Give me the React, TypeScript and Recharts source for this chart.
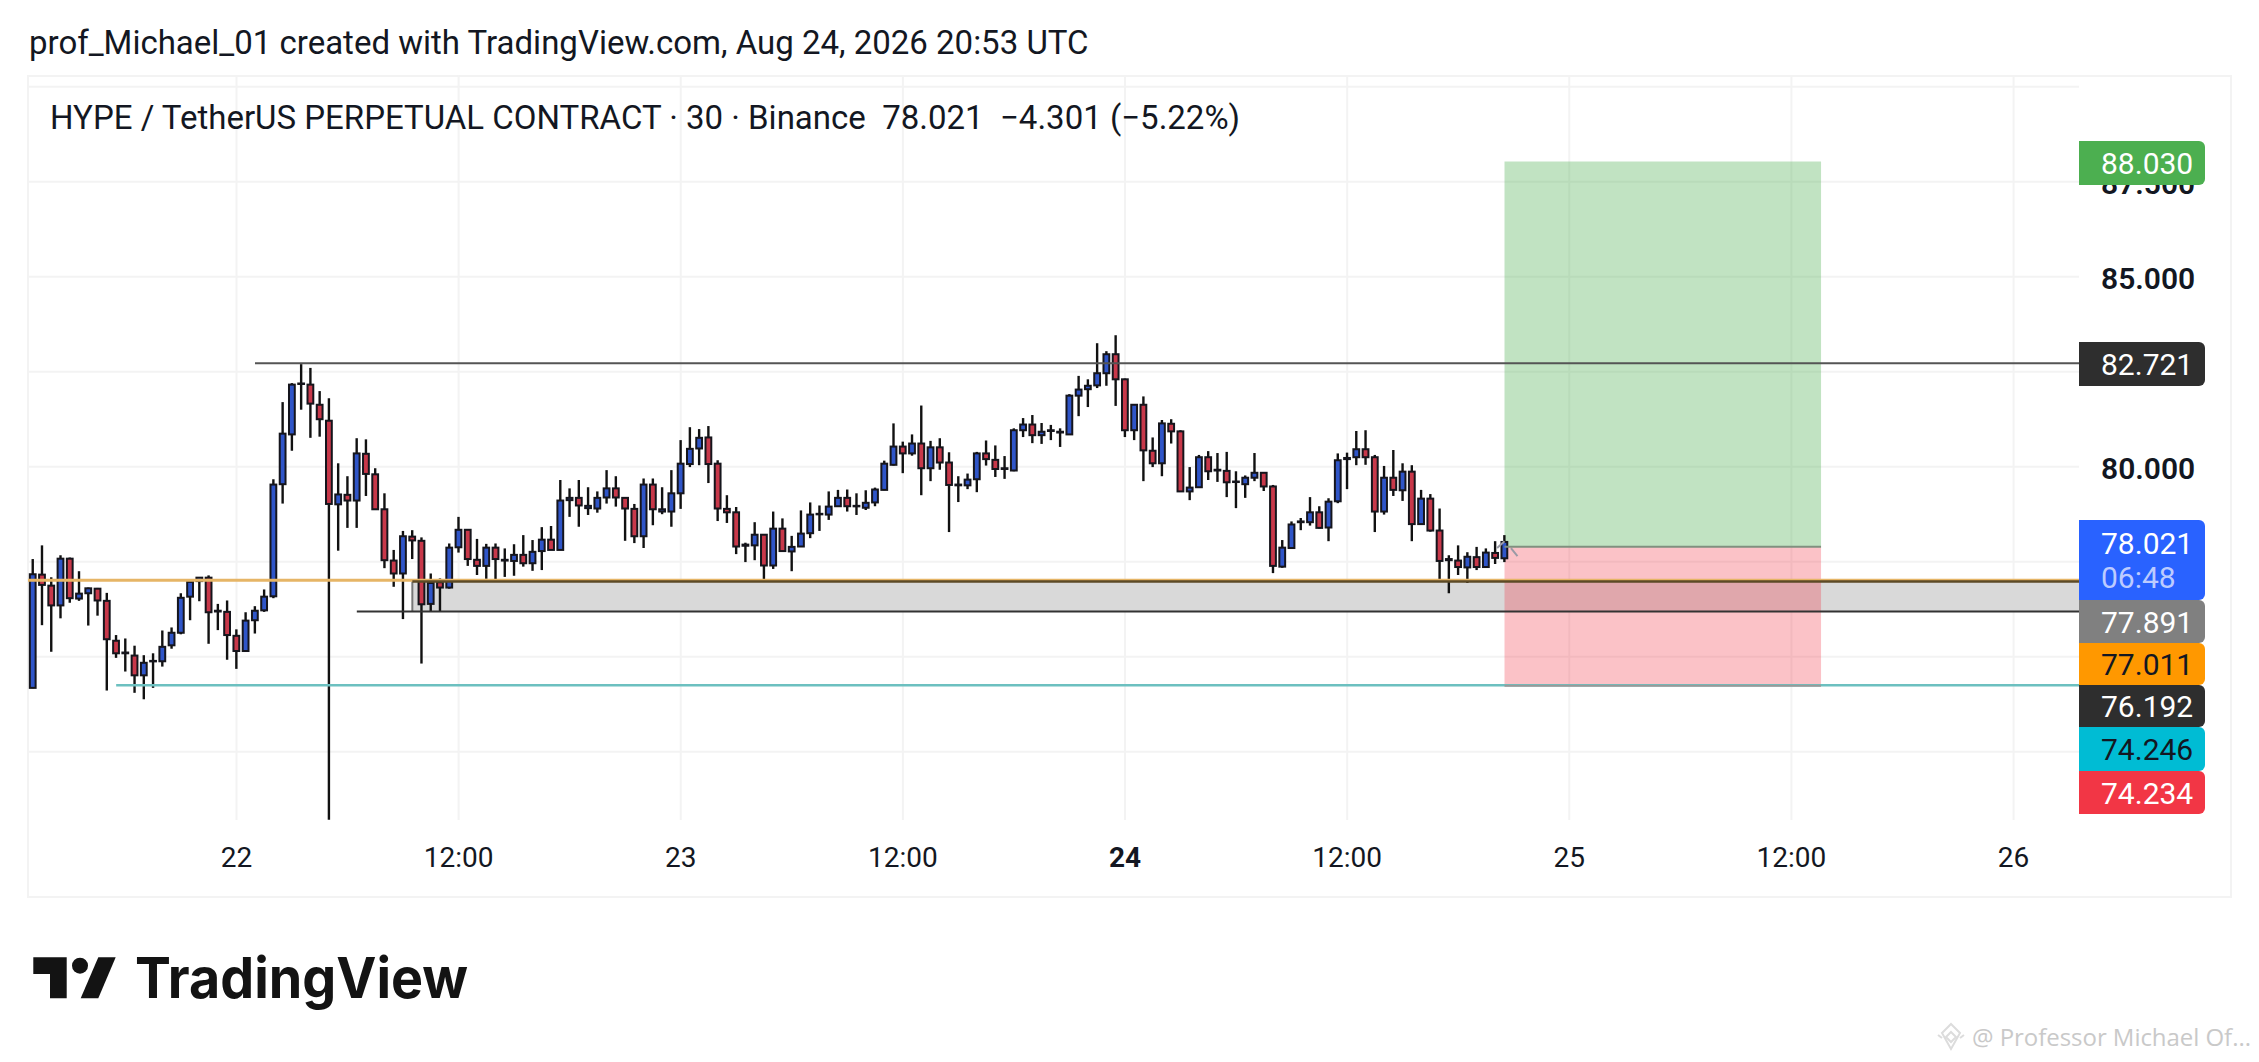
import React from 'react';
import {
  ComposedChart,
  Bar,
  XAxis,
  YAxis,
  CartesianGrid,
  ReferenceLine,
  ReferenceArea,
} from 'recharts';

const opens = [
  74.18, 77.16, 76.87, 76.35, 77.58, 76.53, 76.67, 76.79, 76.47, 75.42, 75.11, 75.03, 74.51, 74.88, 74.88, 75.30,
  75.63, 76.58, 76.99, 77.08, 76.19, 76.18, 75.55, 75.15, 75.96, 76.22, 76.59, 79.54, 80.85, 82.18, 82.16, 81.63,
  81.21, 79.01, 79.26, 79.11, 80.34, 79.80, 78.88, 77.53, 77.19, 78.16, 78.05, 76.39, 76.96, 76.82, 77.88, 78.34,
  77.55, 77.39, 77.87, 77.55, 77.52, 77.68, 77.46, 77.78, 78.08, 77.81, 79.12, 79.18, 78.91, 78.90, 79.19, 79.43,
  79.18, 78.89, 78.17, 79.53, 78.82, 78.82, 79.30, 80.07, 80.48, 80.77, 80.08, 78.89, 78.80, 77.92, 77.93, 78.21,
  77.40, 78.37, 77.77, 77.90, 78.25, 78.75, 78.74, 78.96, 79.18, 78.96, 78.92, 79.06, 79.39, 80.05, 80.53, 80.35,
  80.61, 79.96, 80.51, 80.11, 79.51, 79.51, 79.67, 80.35, 80.18, 79.94, 79.90, 80.96, 81.11, 80.83, 80.94, 80.90,
  80.85, 81.87, 82.04, 82.14, 82.46, 82.96, 82.30, 80.96, 81.63, 80.42, 80.09, 81.13, 80.93, 79.35, 79.46, 80.25,
  79.90, 79.89, 79.60, 79.54, 79.71, 79.84, 79.48, 77.37, 77.86, 78.54, 78.54, 78.80, 78.40, 79.09, 80.20, 80.25,
  80.46, 80.25, 78.82, 79.71, 79.38, 79.87, 78.49, 79.16, 78.32, 77.54, 77.53, 77.35, 77.62, 77.36, 77.73, 77.59,
];
const highs = [
  77.57, 77.93, 77.09, 77.67, 77.61, 77.25, 76.82, 76.81, 76.68, 75.57, 75.48, 75.29, 75.04, 75.09, 75.69, 75.77,
  76.67, 77.01, 77.09, 77.14, 76.39, 76.48, 75.72, 76.17, 76.33, 76.77, 79.67, 81.70, 82.20, 82.70, 82.60, 81.99,
  81.80, 80.09, 79.75, 80.75, 80.72, 79.96, 79.30, 77.81, 78.31, 78.33, 78.14, 77.19, 77.06, 77.98, 78.68, 78.34,
  78.10, 77.97, 77.98, 77.85, 77.96, 78.20, 78.07, 78.41, 78.44, 79.65, 79.43, 79.65, 79.46, 79.35, 79.91, 79.75,
  79.18, 79.02, 79.69, 79.69, 79.46, 79.91, 80.70, 81.04, 80.99, 81.07, 80.17, 79.25, 78.94, 78.00, 78.54, 78.21,
  78.82, 78.64, 78.18, 78.85, 79.06, 78.98, 79.35, 79.39, 79.40, 79.30, 79.38, 79.45, 80.16, 81.14, 80.66, 80.85,
  81.61, 80.68, 80.75, 80.38, 79.75, 79.82, 80.39, 80.69, 80.56, 80.28, 81.01, 81.28, 81.36, 81.15, 81.10, 81.01,
  81.91, 82.39, 82.30, 83.25, 83.04, 83.46, 82.32, 81.65, 81.85, 80.77, 81.23, 81.25, 80.96, 79.99, 80.31, 80.41,
  80.36, 80.39, 79.88, 79.77, 80.36, 79.85, 79.52, 78.07, 78.56, 78.65, 79.20, 78.96, 79.17, 80.35, 80.37, 80.94,
  80.96, 80.31, 80.02, 80.44, 80.09, 80.04, 79.39, 79.28, 78.90, 77.67, 77.93, 77.75, 77.89, 77.85, 78.04, 78.20,
];
const lows = [
  74.17, 75.83, 75.13, 76.01, 76.42, 76.47, 75.82, 76.08, 74.11, 74.97, 74.61, 74.05, 73.88, 74.18, 74.74, 75.21,
  75.59, 75.96, 76.46, 75.34, 75.70, 74.92, 74.68, 75.15, 75.61, 76.18, 76.54, 79.03, 80.42, 81.50, 80.76, 80.79,
  70.71, 77.79, 78.39, 78.39, 79.23, 78.88, 77.33, 76.84, 75.99, 77.57, 74.82, 76.20, 76.20, 76.79, 77.74, 77.39,
  77.15, 77.05, 77.03, 77.10, 77.13, 77.37, 77.26, 77.28, 77.81, 77.81, 78.68, 78.42, 78.73, 78.79, 79.03, 78.95,
  78.05, 77.99, 77.86, 78.46, 78.75, 78.42, 78.89, 79.99, 80.04, 79.57, 78.57, 78.52, 77.70, 77.49, 77.54, 76.97,
  77.31, 77.78, 77.25, 77.90, 78.12, 78.31, 78.60, 78.95, 78.82, 78.73, 78.86, 78.96, 79.38, 80.03, 79.83, 80.29,
  79.25, 79.62, 79.92, 78.28, 79.07, 79.41, 79.33, 80.03, 79.73, 79.68, 79.88, 80.78, 80.62, 80.60, 80.70, 80.52,
  80.84, 81.33, 81.57, 82.07, 82.13, 81.60, 80.78, 80.70, 79.62, 79.99, 79.75, 80.61, 79.35, 79.12, 79.45, 79.65,
  79.60, 79.20, 78.91, 79.18, 79.62, 79.36, 77.20, 77.34, 77.84, 78.33, 78.45, 78.37, 78.04, 79.04, 79.41, 80.04,
  80.05, 78.28, 78.74, 79.23, 79.10, 78.04, 78.48, 78.29, 77.04, 76.67, 77.15, 76.94, 77.28, 77.35, 77.44, 77.49,
];
const closes = [
  77.17, 76.89, 76.35, 77.58, 76.54, 76.66, 76.80, 76.48, 75.46, 75.09, 75.09, 74.51, 74.84, 74.89, 75.26, 75.63,
  76.55, 76.97, 77.08, 76.17, 76.21, 75.57, 75.15, 75.95, 76.21, 76.58, 79.53, 80.87, 82.16, 82.19, 81.66, 81.25,
  79.02, 79.27, 79.11, 80.35, 79.81, 78.88, 77.54, 77.19, 78.17, 78.06, 76.38, 76.94, 76.82, 77.87, 78.34, 77.57,
  77.39, 77.87, 77.57, 77.53, 77.68, 77.46, 77.76, 78.08, 77.81, 79.11, 79.18, 78.98, 78.97, 79.18, 79.43, 79.19,
  78.90, 78.17, 79.53, 78.88, 78.88, 79.30, 80.08, 80.47, 80.76, 80.07, 78.90, 78.80, 77.90, 77.95, 78.21, 77.40,
  78.37, 77.78, 77.89, 78.24, 78.74, 78.76, 78.95, 79.18, 78.96, 78.97, 79.05, 79.40, 80.08, 80.53, 80.35, 80.61,
  79.96, 80.51, 80.11, 79.52, 79.53, 79.66, 80.35, 80.20, 79.94, 79.96, 80.96, 81.11, 80.83, 80.92, 80.96, 80.92,
  81.87, 82.03, 82.13, 82.46, 82.96, 82.30, 80.96, 81.63, 80.43, 80.09, 81.14, 80.93, 79.35, 79.45, 80.25, 79.88,
  79.92, 79.59, 79.61, 79.71, 79.84, 79.48, 77.39, 77.87, 78.48, 78.56, 78.80, 78.39, 79.08, 80.17, 80.23, 80.46,
  80.25, 78.82, 79.71, 79.39, 79.87, 78.49, 79.16, 78.32, 77.52, 77.57, 77.36, 77.63, 77.36, 77.74, 77.60, 78.02,
];

const priceTicks = [72.5, 75, 77.5, 80, 82.5, 85, 87.5, 90];
const shownPriceTicks = [80, 85, 87.5];
const timeTicks = [22, 46, 70, 94, 118, 142, 166, 190, 214];
const timeLabels = ['22', '12:00', '23', '12:00', '24', '12:00', '25', '12:00', '26'];
const boldTimeLabels = ['24'];

// drawing tool levels
const resistance = 82.721;
const zoneTop = 76.98;
const zoneBottom = 76.192;
const orangeLevel = 77.011;
const tealLevel = 74.246;
const target = 88.03;
const entry = 77.891;
const stop = 74.234;

const candles = opens.map((open, i) => ({
  i,
  open,
  close: closes[i],
  range: [lows[i], highs[i]],
}));

const xMin = -0.525;
const xMax = 221.07;
const FONT = 'Roboto, sans-serif';

const Candle = (props: any) => {
  const { x, y, width, height, payload } = props;
  const [low, high] = payload.range;
  const perUnit = height / (high - low);
  const yOf = (price: number) => y + (high - price) * perUnit;
  const bodyTop = yOf(Math.max(payload.open, payload.close));
  const bodyBottom = yOf(Math.min(payload.open, payload.close));
  const up = payload.close >= payload.open;
  const cx = x + width / 2;
  return (
    <g>
      <line x1={cx} x2={cx} y1={y} y2={y + height} stroke="#111" strokeWidth={2.4} />
      <rect
        x={x + 1.6}
        y={bodyTop}
        width={width - 3.2}
        height={Math.max(bodyBottom - bodyTop, 0.5)}
        fill={up ? '#2f55c8' : '#c8384a'}
        stroke="#15151c"
        strokeWidth={2}
      />
    </g>
  );
};

const PriceTick = (props: any) => {
  const { x, y, payload } = props;
  if (!shownPriceTicks.includes(payload.value)) return null;
  return (
    <text x={x + 14} y={y + 12} fontFamily={FONT} fontSize={30} fontWeight={600} fill="#131722">
      {payload.value.toFixed(3)}
    </text>
  );
};

const TimeTick = (props: any) => {
  const { x, y, payload } = props;
  const label = timeLabels[timeTicks.indexOf(payload.value)];
  return (
    <text
      x={x}
      y={y + 39}
      textAnchor="middle"
      fontFamily={FONT}
      fontSize={28}
      fontWeight={boldTimeLabels.includes(label) ? 700 : 400}
      fill="#131722"
    >
      {label}
    </text>
  );
};

const PriceBox = ({ top, height, bg, color, text, sub }: any) => (
  <div
    style={{
      position: 'absolute',
      left: 2079,
      top,
      width: 126,
      height,
      background: bg,
      color,
      borderRadius: '0 6px 6px 0',
      fontFamily: FONT,
      fontSize: 30,
      lineHeight: '34px',
      paddingLeft: 22,
      boxSizing: 'border-box',
      paddingTop: sub ? 7 : (height - 34) / 2 + 1,
    }}
  >
    {text}
    {sub && <div style={{ color: '#bccbff' }}>{sub}</div>}
  </div>
);

const App = () => (
  <div style={{ position: 'absolute', left: 0, top: 0, width: 2259, height: 1062, background: '#fff', overflow: 'hidden' }}>
    <div style={{ position: 'absolute', left: 29, top: 24, fontFamily: FONT, fontSize: 33, lineHeight: '38px', color: '#131722', whiteSpace: 'pre' }}>
      prof_Michael_01 created with TradingView.com, Aug 24, 2026 20:53 UTC
    </div>
    <div style={{ position: 'absolute', left: 27, top: 75, width: 2205, height: 823, border: '2px solid #f3f3f3', boxSizing: 'border-box' }} />
    <div style={{ position: 'absolute', left: 0, top: 0 }}>
      <ComposedChart
        width={2259}
        height={1062}
        data={candles}
        margin={{ left: 28, right: 29, top: 75, bottom: 166 }}
      >
        <CartesianGrid stroke="#f3f3f3" strokeWidth={2} syncWithTicks />
        <XAxis
          dataKey="i"
          type="number"
          domain={[xMin, xMax]}
          ticks={timeTicks}
          interval={0}
          height={76}
          axisLine={false}
          tickLine={false}
          tick={TimeTick}
        />
        <YAxis
          orientation="right"
          domain={[70.703, 90.308]}
          ticks={priceTicks}
          interval={0}
          width={151}
          axisLine={false}
          tickLine={false}
          tick={PriceTick}
        />
        <ReferenceArea x1={41} x2={xMax} y1={zoneBottom} y2={zoneTop} fill="#d9d9d9" fillOpacity={1} stroke="none" />
        <ReferenceLine segment={[{ x: 41, y: zoneBottom }, { x: 41, y: zoneTop }]} stroke="#777" strokeWidth={2} />
        <ReferenceLine segment={[{ x: xMin, y: orangeLevel }, { x: xMax, y: orangeLevel }]} stroke="#e6b566" strokeWidth={3} />
        <ReferenceLine segment={[{ x: 41, y: zoneTop }, { x: xMax, y: zoneTop }]} stroke="#5c4a26" strokeWidth={2.5} />
        <ReferenceLine segment={[{ x: 35, y: zoneBottom }, { x: xMax, y: zoneBottom }]} stroke="#333" strokeWidth={2} />
        <ReferenceLine segment={[{ x: 24, y: resistance }, { x: xMax, y: resistance }]} stroke="#555" strokeWidth={2} />
        <ReferenceLine segment={[{ x: 9, y: tealLevel }, { x: xMax, y: tealLevel }]} stroke="#6cc0c0" strokeWidth={2.5} />
        <ReferenceLine segment={[{ x: 158.2, y: 77.86 }, { x: 159, y: 78.04 }]} stroke="#9a9aa5" strokeWidth={2} />
        <ReferenceLine segment={[{ x: 159.7, y: 77.86 }, { x: 160.4, y: 77.65 }]} stroke="#9a9aa5" strokeWidth={2} />
        <ReferenceArea x1={159} x2={193.2} y1={entry} y2={target} fill="#4caf50" fillOpacity={0.35} stroke="none" />
        <ReferenceArea x1={159} x2={193.2} y1={stop} y2={entry} fill="#f23645" fillOpacity={0.3} stroke="none" />
        <ReferenceLine segment={[{ x: 159, y: entry }, { x: 193.2, y: entry }]} stroke="#80907f" strokeWidth={2} />
        <ReferenceLine segment={[{ x: 159, y: stop }, { x: 193.2, y: stop }]} stroke="#999" strokeWidth={2} />
        <Bar dataKey="range" barSize={9} shape={Candle} isAnimationActive={false} />
      </ComposedChart>
    </div>

    <div style={{ position: 'absolute', left: 50, top: 99, fontFamily: FONT, fontSize: 33, lineHeight: '38px', color: '#131722', whiteSpace: 'pre' }}>
      {'HYPE / TetherUS PERPETUAL CONTRACT · 30 · Binance  78.021  −4.301 (−5.22%)'}
    </div>

    <PriceBox top={141} height={44} bg="#4caf50" color="#fff" text="88.030" />
    <PriceBox top={342} height={44} bg="#2e2e2e" color="#fff" text="82.721" />
    <PriceBox top={520} height={80} bg="#2962ff" color="#fff" text="78.021" sub="06:48" />
    <PriceBox top={600} height={43} bg="#808080" color="#fff" text="77.891" />
    <PriceBox top={643} height={42} bg="#ff9800" color="#131722" text="77.011" />
    <PriceBox top={685} height={42} bg="#2e2e2e" color="#fff" text="76.192" />
    <PriceBox top={727} height={44} bg="#00bcd4" color="#131722" text="74.246" />
    <PriceBox top={771} height={43} bg="#f23645" color="#fff" text="74.234" />

    <svg style={{ position: 'absolute', left: 0, top: 0 }} width={2259} height={1062}>
      <polygon points="33.3,957.3 66.7,957.3 66.7,998.3 50,998.3 50,974 33.3,974" fill="#131313" />
      <circle cx={80} cy={965.7} r={8} fill="#131313" />
      <polygon points="98.3,957.3 115.7,957.3 98.3,998.3 80.7,998.3" fill="#131313" />
      <text x={135} y={998.3} fontFamily="Inter, sans-serif" fontSize={56} fontWeight={700} fill="#131313" textLength={333} lengthAdjust="spacingAndGlyphs">
        TradingView
      </text>
      <g fill="none" stroke="#dcdcdc" strokeWidth={2}>
        <polygon points="1951,1024 1960,1033 1951,1049 1942,1033" />
        <polygon points="1951,1032 1956,1037 1951,1042 1946,1037" />
        <polyline points="1938,1035 1942,1038" />
        <polyline points="1964,1035 1960,1038" />
      </g>
      <text x={1972} y={1046} fontFamily="'Open Sans', sans-serif" fontSize={24} fill="#c9c9c9" textLength={279}>
        @ Professor Michael Of...
      </text>
    </svg>
  </div>
);

export default App;
